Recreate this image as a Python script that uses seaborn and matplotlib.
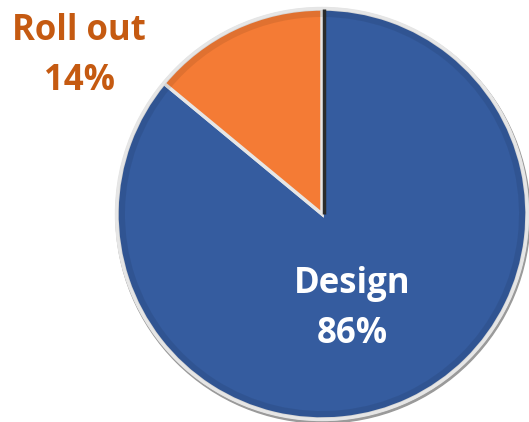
import matplotlib
matplotlib.use("Agg")
import matplotlib.pyplot as plt
import seaborn as sns
from matplotlib.patches import Wedge

phases = ["Design", "Roll out"]
shares = [86, 14]
slice_colors = ["#355C9F", "#F47B35"]
label_colors = ["#FFFFFF", "#C55A11"]

sns.set_theme(style="white")
plt.rcParams["font.family"] = ["Open Sans", "DejaVu Sans"]

fig = plt.figure(figsize=(5.29, 4.22), dpi=100)
ax = fig.add_axes([0, 0, 1, 1])

cx, cy, r = 322, 208, 205

# soft rim behind the pie
ax.add_patch(plt.Circle((cx + 1, cy - 2), r + 2, color="#9A9A9A", zorder=0))
ax.add_patch(plt.Circle((cx, cy), r + 1.5, color="#E4E4E4", zorder=0.5))

wedges, _ = ax.pie(shares, colors=sns.color_palette(slice_colors), startangle=90,
                   counterclock=False, center=(cx, cy), radius=r,
                   wedgeprops=dict(linewidth=2.5, edgecolor="#E6E6E6"))
for w in wedges:
    w.set_zorder(1)

# dark shadow along the straight edge at the top of the first slice
ax.plot([cx + 1.5, cx + 1.5], [cy, cy + r], color="#2B2B2B", lw=2.5, zorder=2,
        solid_capstyle="butt")

# bevel: slightly darker band near the outer edge
for w in wedges:
    ax.add_patch(Wedge((cx, cy), r - 1, w.theta1, w.theta2, width=7,
                       facecolor="black", alpha=0.08, lw=0, zorder=1.5))

pos = [(352, 113), (79, 366)]
for name, val, col, (x, y) in zip(phases, shares, label_colors, pos):
    ax.text(x, y, f"{name}\n{val}%", ha="center", va="center", color=col,
            fontsize=25, fontweight="bold", linespacing=1.5, zorder=3)

ax.set_xlim(0, 529)
ax.set_ylim(0, 422)
ax.set_aspect("equal")
ax.axis("off")

fig.savefig("out.png", dpi=100)
